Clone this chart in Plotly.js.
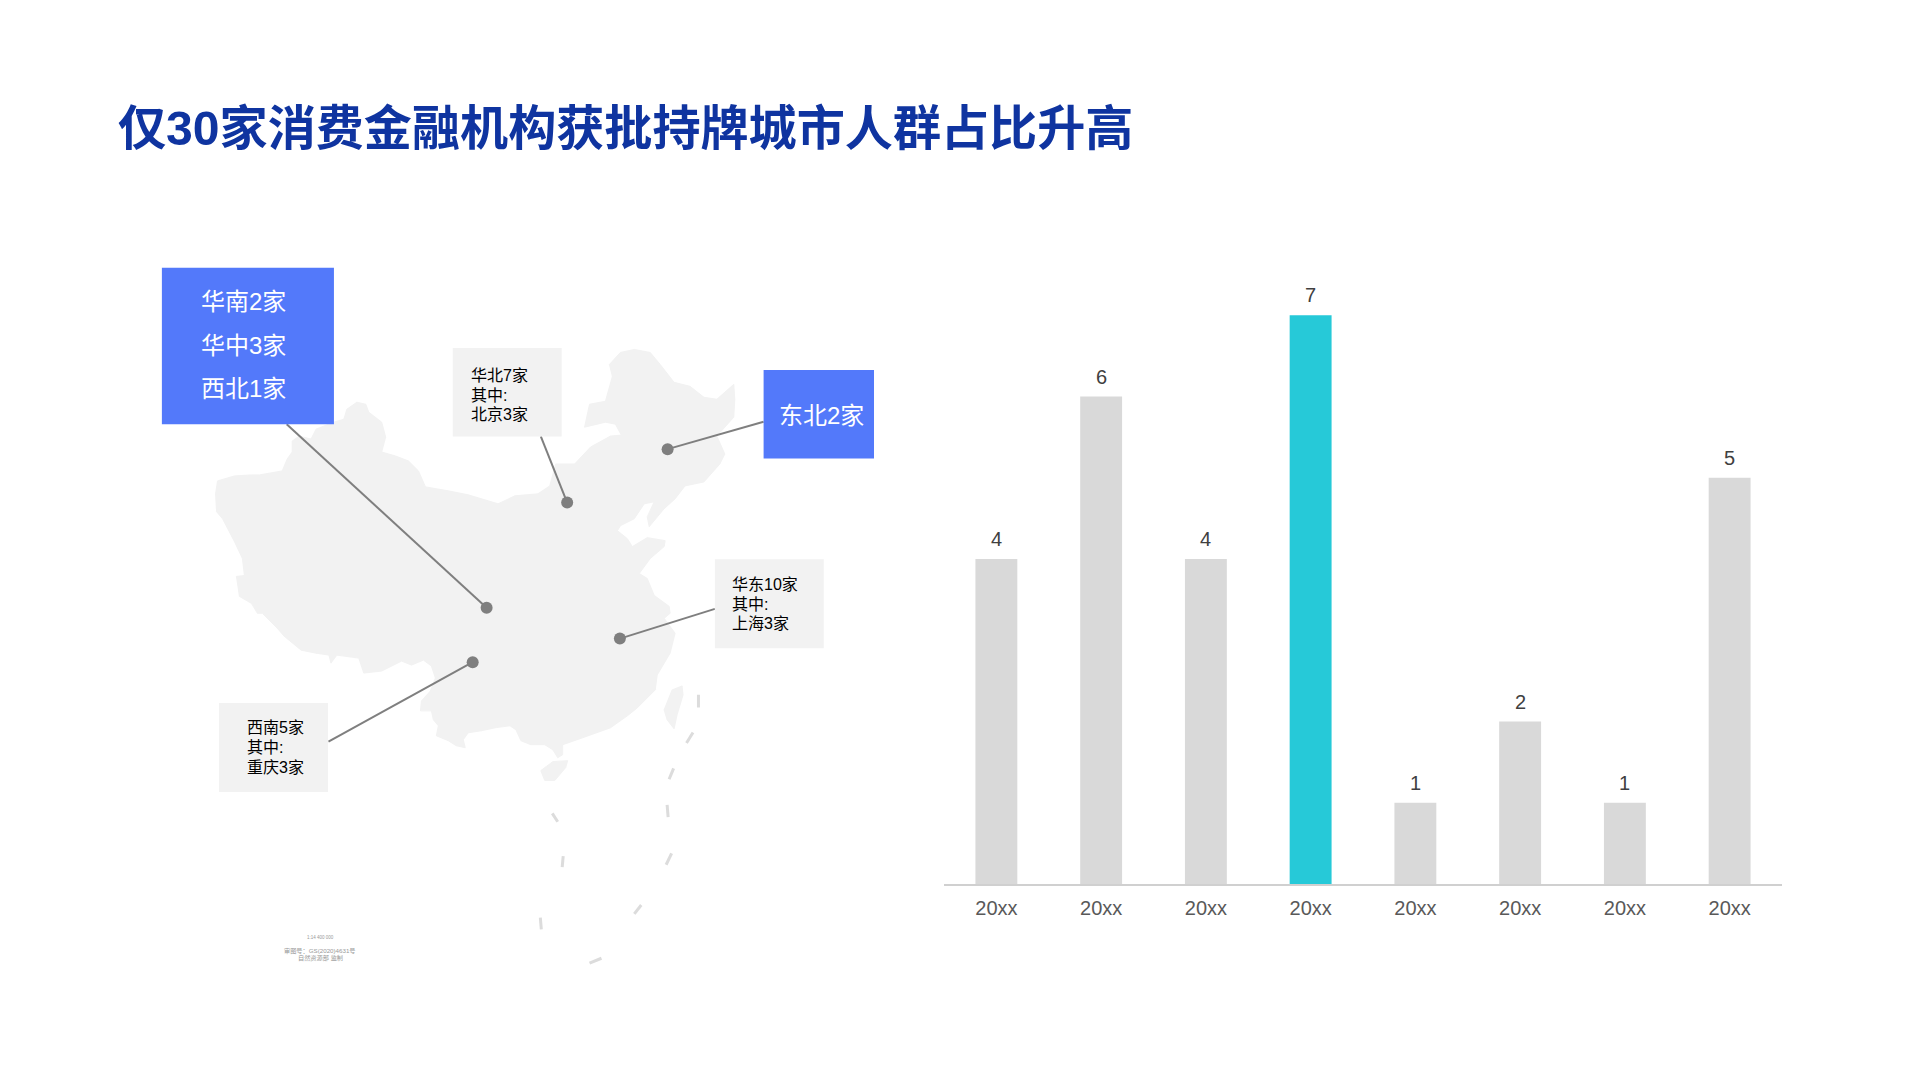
<!DOCTYPE html>
<html>
<head>
<meta charset="utf-8">
<script src="https://cdn.plot.ly/plotly-3.0.1.min.js"></script>
<style>html,body{margin:0;padding:0;background:#fff}#chart{width:1920px;height:1080px}</style>
</head>
<body>
<div id="chart"></div>
<script>
// ---- bar chart data
const years = ['a','b','c','d','e','f','g','h'];
const yearLabels = ['20xx','20xx','20xx','20xx','20xx','20xx','20xx','20xx'];
const counts = [4,6,4,7,1,2,1,5];
const barColors = ['#D9D9D9','#D9D9D9','#D9D9D9','#26C9D8','#D9D9D9','#D9D9D9','#D9D9D9','#D9D9D9'];

// ---- map outline
const mainlandX = [217,216,218,235,252,260,283,288,293,293,300,312,317,335,345,348,358,367,370,383,387,383,397,410,420,427,450,470,480,500,517,540,552,558,577,593,613,624,618,608,587,592,608,611,615,612,623,637,653,663,677,693,707,720,737,738,737,720,728,723,707,688,678,667,652,650,657,647,637,623,620,630,635,650,668,667,653,642,650,657,672,673,667,678,673,660,658,640,630,613,600,585,565,565,560,555,547,533,523,518,512,497,483,470,465,467,458,450,438,440,435,433,422,423,432,437,433,425,413,403,383,365,360,338,332,330,317,302,285,278,263,258,252,240,237,245,243,235,223,217];
const mainlandY = [513,495,482,477,476,476,472,460,453,442,437,440,430,423,420,410,403,405,413,423,438,453,457,462,472,488,492,496,499,505,497,495,487,465,465,448,437,436,425,423,428,405,402,390,377,365,353,350,353,365,383,387,398,400,385,400,418,437,455,465,483,487,500,510,528,518,503,505,520,527,532,540,548,539,542,548,560,575,580,597,608,615,620,635,655,677,692,710,718,730,735,740,747,757,760,752,747,747,743,732,728,730,733,735,742,750,748,743,738,728,722,713,713,703,693,680,668,662,667,663,673,675,660,657,665,657,655,652,638,630,615,615,605,598,578,577,560,543,520,513];
const taiwanX = [685,686,680,677,670,667,675,685];
const taiwanY = [688,697,717,731,722,712,692,688];
const hainanX = [570,568,557,547,543,555,570];
const hainanY = [763,770,783,783,773,764,763];
const dashX = [701.5,701.5,null,696,689.5,null,676.5,672,null,670,671,null,674.5,669,null,644,637,null,604,592,null,542.5,543.5,null,565.5,564.5,null,554.5,560];
const dashY = [696.8,709.6,null,734.8,745.2,null,770.8,781.7,null,807.4,819.7,null,856.2,867.6,null,908,917,null,961.5,966.3,null,920.7,932.6,null,859,870,null,816,824.4];

// ---- leaders and their dots
const dotX = [488.5,569.5,670.5,622.5,474.5];
const dotY = [609.5,503.8,450.1,640.4,664.1];
const leaderStartX = [287.5,543,767,718,329.5];
const leaderStartY = [425,437.3,422.6,610.5,743.8];

// ---- callouts
const blueLabels = ['华南2家','华中3家','西北1家','东北2家'];
const greyLabels = ['华北7家','其中:','北京3家','华东10家','其中:','上海3家','西南5家','其中:','重庆3家'];
const titleText = '仅30家消费金融机构获批持牌城市人群占比升高';
const noteLines = ['1:14 400 000','审图号：GS(2020)4631号','自然资源部 监制'];

const cjk = '"Liberation Sans","Noto Sans CJK SC",sans-serif';
const W = 1920, H = 1080;

const leaderX = [], leaderY = [];
dotX.forEach((x,i)=>{ leaderX.push(leaderStartX[i],x,null); leaderY.push(leaderStartY[i],dotY[i],null); });

const mapTrace = (x,y)=>({type:'scatter',mode:'lines',x,y,xaxis:'x2',yaxis:'y2',fill:'toself',fillcolor:'#F2F2F2',
  line:{color:'#F2F2F2',width:1},hoverinfo:'skip'});

const traces = [
  {type:'bar',x:years,y:counts,marker:{color:barColors,line:{width:0}},width:0.4,hoverinfo:'skip'},
  mapTrace(mainlandX,mainlandY),
  mapTrace(taiwanX,taiwanY),
  mapTrace(hainanX,hainanY),
  {type:'scatter',mode:'lines',x:dashX,y:dashY,xaxis:'x2',yaxis:'y2',line:{color:'#DCDCDC',width:3},hoverinfo:'skip',connectgaps:false},
  {type:'scatter',mode:'lines',x:leaderX,y:leaderY,xaxis:'x2',yaxis:'y2',line:{color:'#7F7F7F',width:2},hoverinfo:'skip'},
  {type:'scatter',mode:'markers',x:dotX,y:dotY,xaxis:'x2',yaxis:'y2',marker:{color:'#7F7F7F',size:12},hoverinfo:'skip'}
];

const box = (x0,x1,y0,y1,c)=>({type:'rect',xref:'x2',yref:'y2',x0,x1,y0,y1,fillcolor:c,line:{width:0},layer:'above'});
const shapes = [
  box(162,335,268,425,'#5379FA'),
  box(767,878,370.5,459.6,'#5379FA'),
  box(454.5,564,348.6,437.3,'#F2F2F2'),
  box(718,827.5,560.7,650,'#F2F2F2'),
  box(219.5,329,705,794.5,'#F2F2F2')
];

const note = (t,x,y,size,color,family,anchor)=>({text:t,xref:'x2',yref:'y2',x,y,showarrow:false,
  xanchor:anchor||'left',yanchor:'middle',borderpad:0,font:{family:family||cjk,size,color}});
const annotations = [
  note(blueLabels[0],200,301.7,24,'#FFFFFF'),
  note(blueLabels[1],200,345.5,24,'#FFFFFF'),
  note(blueLabels[2],200,389,24,'#FFFFFF'),
  note(blueLabels[3],781,416,24,'#FFFFFF'),
  note(greyLabels[0],471.3,376,16,'#000000'),
  note(greyLabels[1],471.3,396,16,'#000000'),
  note(greyLabels[2],471.3,415.5,16,'#000000'),
  note(greyLabels[3],734.4,586.3,16,'#000000'),
  note(greyLabels[4],734.4,605.7,16,'#000000'),
  note(greyLabels[5],734.4,625,16,'#000000'),
  note(greyLabels[6],246.5,730,16,'#000000'),
  note(greyLabels[7],246.5,750,16,'#000000'),
  note(greyLabels[8],246.5,769.4,16,'#000000'),
  note(noteLines[0],321,940.6,4.5,'#999999',null,'center'),
  note(noteLines[1],321,954,6.2,'#999999',null,'center'),
  note(noteLines[2],321,961.5,6.2,'#999999',null,'center')
].concat(counts.map((v,i)=>({text:String(v),xref:'x',yref:'y',x:years[i],y:v,yshift:20,showarrow:false,
  xanchor:'center',yanchor:'middle',borderpad:0,font:{family:cjk,size:20,color:'#404040'}})));

const layout = {
  width:W,height:H,margin:{l:0,r:0,t:0,b:0},paper_bgcolor:'#FFFFFF',plot_bgcolor:'rgba(0,0,0,0)',
  showlegend:false,hovermode:false,
  title:{text:titleText,x:118/W,xref:'paper',xanchor:'left',y:1-128/H,yref:'paper',yanchor:'middle',
    font:{family:cjk,size:48.1,weight:700,color:'#0F34A0'},pad:{l:0,r:0,t:0,b:0}},
  xaxis:{domain:[944/W,1782/W],type:'category',tickmode:'array',tickvals:years,ticktext:yearLabels,
    showline:true,linecolor:'#D0D0D0',linewidth:1.5,ticks:'',ticklabelstandoff:5,showgrid:false,zeroline:false,fixedrange:true,
    tickfont:{family:cjk,size:20,color:'#595959'}},
  yaxis:{domain:[(H-884)/H,(H-234)/H],range:[0,8],visible:false,showgrid:false,zeroline:false,fixedrange:true},
  xaxis2:{domain:[0,1],range:[-0.76,1929.7],visible:false,anchor:'y2',fixedrange:true},
  yaxis2:{domain:[0,1],range:[1083.8,-1.08],visible:false,anchor:'x2',fixedrange:true},
  shapes,annotations
};
Plotly.newPlot('chart',traces,layout,{displayModeBar:false,staticPlot:true});
</script>
</body>
</html>
